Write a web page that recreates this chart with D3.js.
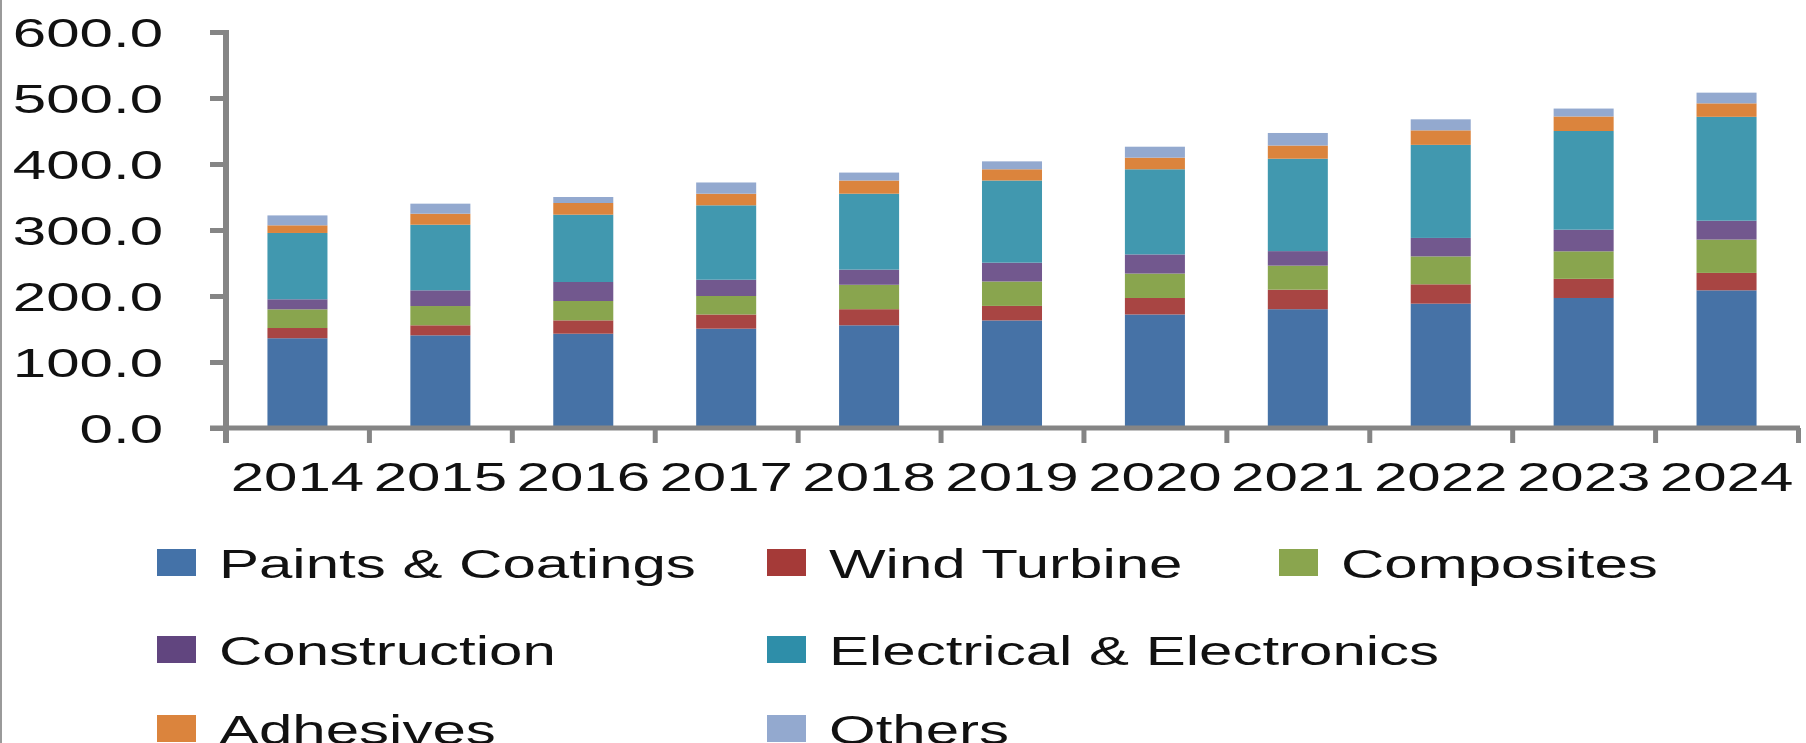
<!DOCTYPE html>
<meta charset="utf-8">
<script src="https://cdn.jsdelivr.net/npm/d3@7"></script>
<style>
    body { margin: 0; background: #fff; }
    text { font-family: "Liberation Sans", Arial, sans-serif; fill: #111; }
</style>
<body>
<script>

    // values
    var years = ["2014", "2015", "2016", "2017", "2018", "2019", "2020", "2021", "2022", "2023", "2024"]
    var paints = [136, 140.4, 142.9, 150.5, 155.6, 163, 172, 180, 188.4, 197, 208.6]
    var wind = [15.5, 15.2, 20.2, 21.5, 24.4, 22, 25, 29.6, 29.3, 29, 26.4]
    var composites = [28.3, 29.2, 29.3, 28, 37, 37, 37, 36.4, 42.3, 41.7, 50.5]
    var construction = [15.2, 23.8, 28.8, 24.7, 23, 28.5, 29, 22, 28, 32.8, 28.6]
    var electrical = [100.5, 99.4, 102, 112.7, 115, 124.5, 129, 140, 141, 149.5, 157.4]
    var adhesives = [11.6, 16.7, 17.7, 17.6, 20, 17, 17.6, 20, 22, 22, 20.4]
    var others = [15, 15.2, 9.1, 17, 12, 12, 16.6, 19, 16.7, 12, 16.2]
    var labels = ["Paints & Coatings", "Wind Turbine", "Composites", "Construction", "Electrical & Electronics", "Adhesives", "Others"]
    var yTicks = [0, 100, 200, 300, 400, 500, 600]

    var series = [paints, wind, composites, construction, electrical, adhesives, others]
    var barColors = ['#4672A6', '#A84543', '#89A54E', '#72588E', '#4198AF', '#DB843D', '#93A9CF']
    var legendColors = ['#4472A8', '#A53A38', '#8AA54E', '#61457F', '#2E8EA9', '#DB843D', '#93A9CF']

    var rows = years.map((yr, i) => {
        var r = {year: yr}
        labels.forEach((l, j) => { r[l] = series[j][i] })
        return r
    })

    var W = 1806, H = 743
    var plotL = 226, plotR = 1798, plotT = 32, plotB = 428
    var stretch = 1.5   // the picture is stretched sideways
    var axisGrey = "#858585"

    var svg = d3.select("body").append("svg").attr("width", W).attr("height", H)
    svg.append("rect").attr("width", W).attr("height", H).attr("fill", "#fff")
    svg.append("line").attr("x1", 1).attr("x2", 1).attr("y1", 0).attr("y2", H).attr("stroke", "#9a9a9a").attr("stroke-width", 2)

    var x = d3.scaleBand().domain(years).range([plotL, plotR])
    var y = d3.scaleLinear().domain([0, 600]).range([plotB, plotT])
    var barW = x.bandwidth() * 0.42

    var stacked = d3.stack().keys(labels)(rows)

    svg.append("g").selectAll("g").data(stacked).enter().append("g")
        .attr("fill", (d, i) => barColors[i])
        .selectAll("rect").data(d => d).enter().append("rect")
        .attr("x", d => x(d.data.year) + x.bandwidth() / 2 - barW / 2)
        .attr("width", barW)
        .attr("y", d => y(d[1]))
        .attr("height", d => y(d[0]) - y(d[1]))

    // y axis
    var yAxis = d3.axisLeft(y).tickValues(yTicks).tickFormat(d3.format(".1f")).tickSize(16)
    var gy = svg.append("g").attr("transform", "translate(" + plotL + ",0)").call(yAxis)
    gy.select(".domain").remove()
    gy.selectAll("line").attr("stroke", axisGrey).attr("stroke-width", 5)
    gy.selectAll("text")
        .attr("x", -63 / stretch).attr("dy", "0.36em")
        .attr("transform", "scale(" + stretch + ",1)")
        .style("font-size", "40px")
    svg.append("line").attr("x1", plotL).attr("x2", plotL).attr("y1", plotT - 2).attr("y2", plotB + 15)
        .attr("stroke", axisGrey).attr("stroke-width", 6)

    // x axis: ticks on the category borders, labels in the middle
    var edges = d3.scaleLinear().domain([0, years.length]).range([plotL, plotR])
    var gt = svg.append("g").attr("transform", "translate(0," + plotB + ")")
        .call(d3.axisBottom(edges).tickValues(d3.range(1, years.length + 1)).tickFormat("").tickSize(15))
    gt.select(".domain").remove()
    gt.selectAll("line").attr("stroke", axisGrey).attr("stroke-width", 5)
    svg.append("line").attr("x1", plotL - 16).attr("x2", plotR + 2).attr("y1", plotB).attr("y2", plotB)
        .attr("stroke", axisGrey).attr("stroke-width", 5)

    var gx = svg.append("g").attr("transform", "translate(0," + plotB + ")")
        .call(d3.axisBottom(x).tickSize(0).tickPadding(34.6))
    gx.select(".domain").remove()
    gx.selectAll("text").attr("transform", "scale(" + stretch + ",1)").style("font-size", "40px")

    // legend
    var colX = [157, 767, 1279]
    var rowY = [549, 636, 715]
    var legCol = [0, 1, 2, 0, 1, 0, 1]
    var legRow = [0, 0, 0, 1, 1, 2, 2]
    var leg = svg.append("g")
    labels.forEach((l, i) => {
        var lx = colX[legCol[i]], ly = rowY[legRow[i]]
        leg.append("rect").attr("x", lx).attr("y", ly).attr("width", 39).attr("height", 27).attr("fill", legendColors[i])
        leg.append("text").attr("x", (lx + 62) / stretch).attr("y", ly + 29)
            .attr("transform", "scale(" + stretch + ",1)")
            .style("font-size", "40px").text(l)
    })

</script>
</body>
</html>
